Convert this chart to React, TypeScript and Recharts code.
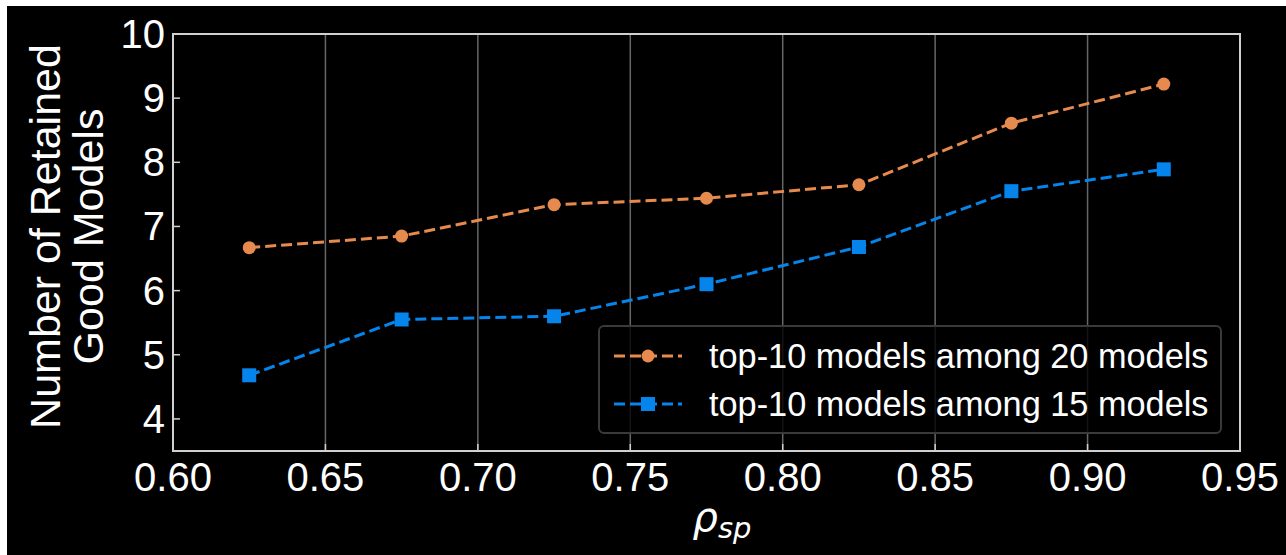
import { LineChart, Line, XAxis, YAxis, CartesianGrid, ReferenceArea } from 'recharts';

const rho = [0.625, 0.675, 0.725, 0.775, 0.825, 0.875, 0.925];
const among20 = [6.67, 6.85, 7.34, 7.44, 7.65, 8.61, 9.22];
const among15 = [4.68, 5.55, 5.6, 6.1, 6.68, 7.55, 7.89];
const xTicks = [0.6, 0.65, 0.7, 0.75, 0.8, 0.85, 0.9, 0.95];
const yTicks = [4, 5, 6, 7, 8, 9, 10];
const seriesNames = ['top-10 models among 20 models', 'top-10 models among 15 models'];

const ORANGE = '#E68A4E';
const BLUE = '#0584EC';
const FRAME = '#d0d0d0';
const FONT = '"Liberation Sans", Arial, sans-serif';

const data = rho.map((r, i) => ({ rho: r, a20: among20[i], a15: among15[i] }));

const CircleDot = (props: any) => {
  const { cx, cy, index } = props;
  return <circle key={`c${index}`} cx={cx} cy={cy} r={6.5} fill={ORANGE} />;
};

const SquareDot = (props: any) => {
  const { cx, cy, index } = props;
  return <rect key={`s${index}`} x={cx - 7} y={cy - 7} width={14} height={14} fill={BLUE} />;
};

const XTick = (props: any) => {
  const { x, y, payload } = props;
  return (
    <g>
      <line x1={x} y1={y} x2={x} y2={y - 7} stroke={FRAME} strokeWidth={1.5} />
      <text x={x} y={y + 40} textAnchor="middle" fill="#fff" fontSize={40} fontFamily={FONT}>
        {Number(payload.value).toFixed(2)}
      </text>
    </g>
  );
};

const YTick = (props: any) => {
  const { x, y, payload } = props;
  return (
    <g>
      <line x1={x} y1={y} x2={x + 7} y2={y} stroke={FRAME} strokeWidth={1.5} />
      <text x={x - 8} y={y + 14} textAnchor="end" fill="#fff" fontSize={40} fontFamily={FONT}>
        {payload.value}
      </text>
    </g>
  );
};

const YLabel = (props: any) => {
  const cy = props.viewBox.y + props.viewBox.height / 2;
  return (
    <g transform={`translate(0, ${cy - 6}) rotate(-90)`}>
      <text x={0} y={60} textAnchor="middle" fill="#fff" fontSize={43} fontFamily={FONT}>
        Number of Retained
      </text>
      <text x={0} y={103} textAnchor="middle" fill="#fff" fontSize={43} fontFamily={FONT}>
        Good Models
      </text>
    </g>
  );
};

const XLabel = (props: any) => {
  const cx = props.viewBox.x + props.viewBox.width / 2;
  return (
    <text x={cx - 14} y={531} fill="#fff" fontFamily='"DejaVu Sans", sans-serif' fontStyle="italic">
      <tspan fontSize={40}>ρ</tspan>
      <tspan fontSize={29} dy={7}>sp</tspan>
    </text>
  );
};

function LegendBox() {
  const items = [
    { name: seriesNames[0], color: ORANGE, shape: 'circle' },
    { name: seriesNames[1], color: BLUE, shape: 'square' },
  ];
  return (
    <div
      style={{
        position: 'absolute',
        left: 598,
        top: 325,
        width: 620,
        height: 105,
        border: '2px solid #3a3a3a',
        borderRadius: 6,
        background: 'rgba(0,0,0,0.8)',
      }}
    >
      {items.map((it, i) => (
        <div
          key={i}
          style={{ position: 'absolute', left: 12, top: 9 + i * 48, height: 40, display: 'flex', alignItems: 'center' }}
        >
          <svg width={72} height={20}>
            <line x1={2} y1={10} x2={70} y2={10} stroke={it.color} strokeWidth={3} strokeDasharray="11 5" />
            {it.shape === 'circle' ? (
              <circle cx={36} cy={10} r={6.5} fill={it.color} />
            ) : (
              <rect x={29} y={3} width={14} height={14} fill={it.color} />
            )}
          </svg>
          <span style={{ marginLeft: 25, color: '#fff', fontSize: 34.3, fontFamily: FONT, whiteSpace: 'nowrap' }}>
            {it.name}
          </span>
        </div>
      ))}
    </div>
  );
}

export default function App() {
  return (
    <div style={{ position: 'fixed', left: 0, top: 0, width: 1286, height: 555, background: '#fff' }}>
      <div style={{ position: 'absolute', left: 7, top: 6, width: 1279, height: 549, background: '#000' }} />
      <div style={{ position: 'absolute', left: 0, top: 0 }}>
        <LineChart width={1286} height={555} data={data} margin={{ top: 34, right: 46, bottom: 44, left: 93 }}>
          <CartesianGrid horizontal={false} vertical stroke="#666" strokeWidth={1.5} verticalValues={xTicks} />
          <XAxis
            dataKey="rho"
            type="number"
            domain={[0.6, 0.95]}
            ticks={xTicks}
            height={60}
            axisLine={{ stroke: FRAME, strokeWidth: 2 }}
            tickLine={false}
            tickSize={0}
            tickMargin={0}
            tick={<XTick />}
            label={<XLabel />}
          />
          <YAxis
            type="number"
            domain={[3.5, 10]}
            ticks={yTicks}
            width={80}
            axisLine={{ stroke: FRAME, strokeWidth: 2 }}
            tickLine={false}
            tickSize={0}
            tickMargin={0}
            tick={<YTick />}
            label={<YLabel />}
          />
          <ReferenceArea x1={0.6} x2={0.95} y1={3.5} y2={10} fill="none" stroke={FRAME} strokeWidth={2} />
          <Line
            dataKey="a20"
            name={seriesNames[0]}
            stroke={ORANGE}
            strokeWidth={3}
            strokeDasharray="11 5"
            dot={CircleDot}
            activeDot={false}
            isAnimationActive={false}
          />
          <Line
            dataKey="a15"
            name={seriesNames[1]}
            stroke={BLUE}
            strokeWidth={3}
            strokeDasharray="11 5"
            dot={SquareDot}
            activeDot={false}
            isAnimationActive={false}
          />
        </LineChart>
      </div>
      <LegendBox />
    </div>
  );
}
